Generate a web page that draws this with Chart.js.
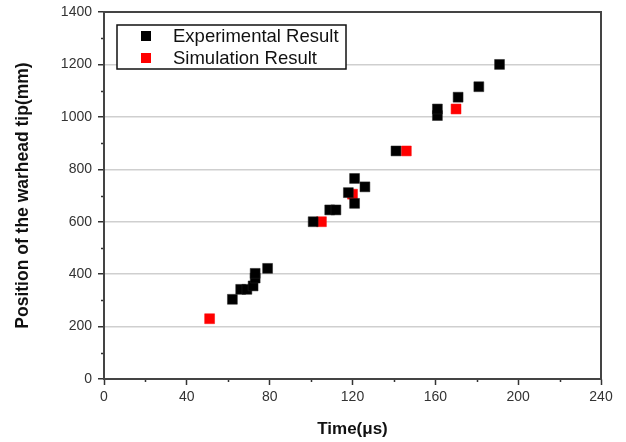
<!DOCTYPE html>
<html>
<head>
<meta charset="utf-8">
<script src="https://cdn.jsdelivr.net/npm/chart.js@4/dist/chart.umd.min.js"></script>
<style>
  html, body { margin: 0; padding: 0; background: #fff; }
  #wrap { width: 626px; height: 442px; position: relative; }
</style>
</head>
<body>
<div id="wrap"><canvas id="c"></canvas></div>
<script>
// data
const expTime = [62, 66, 69, 72, 73, 73, 79, 101, 109, 112, 118, 121, 121, 126, 141, 161, 161, 171, 181, 191];
const expPos  = [304, 342, 342, 355, 385, 403, 422, 600, 645, 645, 711, 670, 765, 733, 870, 1005, 1030, 1075, 1115, 1200];
const simTime = [51, 105, 120, 146, 170];
const simPos  = [230, 600, 705, 870, 1030];
const seriesNames = ['Experimental Result', 'Simulation Result'];
const xTicks = [0, 40, 80, 120, 160, 200, 240];
const yTicks = [0, 200, 400, 600, 800, 1000, 1200, 1400];

function toPoints(xs, ys) {
    return xs.map((x, i) => ({x: x, y: ys[i]}));
}

const font = "'Liberation Sans', Arial, sans-serif";

// frame, minor ticks and the legend inside the plot
const extras = {
    id: 'extras',
    afterDraw(chart) {
        const ctx = chart.ctx;
        const a = chart.chartArea;
        const xs = chart.scales.x, ys = chart.scales.y;
        ctx.save();
        ctx.strokeStyle = '#333';
        ctx.lineWidth = 1.5;
        // minor ticks
        ctx.beginPath();
        for (let v = 20; v < 240; v += 40) {
            const px = Math.round(xs.getPixelForValue(v)) + 0.5;
            ctx.moveTo(px, a.bottom);
            ctx.lineTo(px, a.bottom + 3);
        }
        for (let v = 100; v < 1400; v += 200) {
            const py = Math.round(ys.getPixelForValue(v)) + 0.5;
            ctx.moveTo(a.left, py);
            ctx.lineTo(a.left - 3, py);
        }
        ctx.stroke();
        // frame
        ctx.strokeStyle = '#444';
        ctx.lineWidth = 2;
        ctx.strokeRect(a.left, a.top, a.right - a.left, a.bottom - a.top);

        // legend box
        const lx = 117, ly = 25, lw = 229, lh = 44;
        ctx.lineWidth = 1.5;
        ctx.strokeStyle = '#111';
        ctx.fillStyle = '#fff';
        ctx.fillRect(lx, ly, lw, lh);
        ctx.strokeRect(lx, ly, lw, lh);
        ctx.font = '18.5px ' + font;
        ctx.textBaseline = 'middle';
        chart.data.datasets.forEach((ds, i) => {
            const cy = ly + 11 + i * 22;
            ctx.fillStyle = ds.backgroundColor;
            ctx.fillRect(141, cy - 5, 10, 10);
            ctx.fillStyle = '#111';
            ctx.fillText(ds.label, 173, cy + 1);
        });
        ctx.restore();
    }
};

new Chart(document.getElementById('c'), {
    type: 'scatter',
    data: {
        datasets: [{
            label: seriesNames[0],
            data: toPoints(expTime, expPos),
            backgroundColor: '#000',
            borderColor: '#222',
            borderWidth: 0.5,
            pointStyle: 'rect',
            pointRadius: 7,
            pointHoverRadius: 7
        }, {
            label: seriesNames[1],
            data: toPoints(simTime, simPos),
            backgroundColor: '#ff0000',
            borderColor: '#ff0000',
            borderWidth: 0.5,
            pointStyle: 'rect',
            pointRadius: 7,
            pointHoverRadius: 7
        }]
    },
    options: {
        responsive: true,
        maintainAspectRatio: false,
        animation: false,
        layout: {padding: {left: 0, right: 25, top: 12, bottom: 0}},
        plugins: {
            legend: {display: false},
            tooltip: {enabled: false}
        },
        scales: {
            x: {
                type: 'linear',
                min: xTicks[0],
                max: xTicks[xTicks.length - 1],
                afterBuildTicks: s => { s.ticks = xTicks.map(v => ({value: v})); },
                afterFit: s => { s.height = 63; s.paddingLeft = 0; s.paddingRight = 0; },
                border: {display: true, color: '#333', width: 1.5},
                grid: {drawOnChartArea: false, drawTicks: true, tickLength: 6, color: '#333', tickWidth: 1.5},
                ticks: {color: '#333', font: {family: font, size: 14}, padding: 4, maxRotation: 0, callback: v => String(v)},
                title: {display: true, text: 'Time(μs)', color: '#111', font: {family: font, size: 17, weight: 'bold'}, padding: {top: 8, bottom: 2}}
            },
            y: {
                type: 'linear',
                min: yTicks[0],
                max: yTicks[yTicks.length - 1],
                afterBuildTicks: s => { s.ticks = yTicks.map(v => ({value: v})); },
                afterFit: s => { s.width = 104; s.paddingTop = 0; s.paddingBottom = 0; },
                border: {display: true, color: '#333', width: 1.5},
                grid: {
                    drawTicks: true,
                    tickLength: 6,
                    tickColor: '#333',
                    tickWidth: 1.5,
                    color: c => (c.tick && c.tick.value > 0 && c.tick.value < 1400) ? '#cfcfcf' : 'rgba(0,0,0,0)',
                    lineWidth: 1.5
                },
                ticks: {color: '#333', font: {family: font, size: 14}, padding: 6, callback: v => String(v)},
                title: {display: true, text: 'Position of the warhead tip(mm)', color: '#111', font: {family: font, size: 17.5, weight: 'bold'}, padding: {top: 13, bottom: 0}}
            }
        }
    },
    plugins: [extras]
});
</script>
</body>
</html>
